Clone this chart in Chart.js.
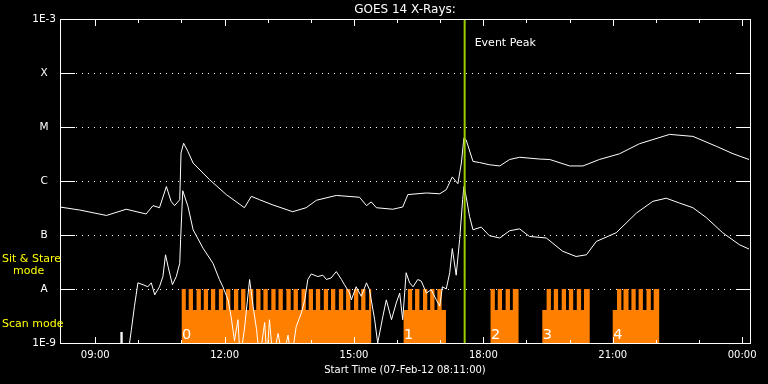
<!DOCTYPE html>
<html>
<head>
<meta charset="utf-8">
<title>GOES 14 X-Rays</title>
<script src="https://cdn.jsdelivr.net/npm/chart.js@4.4.1/dist/chart.umd.min.js"></script>
<style>
  html, body { margin: 0; padding: 0; background: #000; }
  #chart { display: block; }
</style>
</head>
<body>
<canvas id="chart" width="768" height="384"></canvas>
<script>
// GOES 14 X-ray flux (W/m^2), 07-Feb-12, times in decimal hours UT
const longTimes = [8.18, 8.64, 9.26, 9.72, 10.18, 10.34, 10.49, 10.65, 10.76, 10.84, 10.96, 10.99, 11.05, 11.15, 11.27, 11.65,
  12.04, 12.46, 12.62, 12.81, 13.12, 13.58, 13.89, 14.13, 14.59, 15.13, 15.29, 15.40, 15.52, 15.90, 16.13, 16.25, 16.68,
  16.99, 17.14, 17.28, 17.41, 17.49, 17.55, 17.60, 17.76, 17.91, 18.14, 18.38, 18.61, 18.84, 19.30, 19.54, 20.00, 20.31,
  20.69, 21.16, 21.62, 22.32, 22.86, 23.40, 23.79, 24.16];
const longFlux = [3.3e-7, 2.9e-7, 2.3e-7, 3.0e-7, 2.45e-7, 3.5e-7, 3.2e-7, 7.9e-7, 4.2e-7, 3.5e-7, 4.5e-7, 3.3e-6, 5.0e-6, 3.5e-6, 2.15e-6, 1.06e-6,
  5.6e-7, 3.2e-7, 5.2e-7, 4.5e-7, 3.6e-7, 2.7e-7, 3.2e-7, 4.4e-7, 5.4e-7, 5.0e-7, 3.5e-7, 4.1e-7, 3.2e-7, 3.0e-7, 3.3e-7, 5.6e-7, 6.0e-7,
  5.8e-7, 6.9e-7, 1.19e-6, 8.9e-7, 2.15e-6, 6.3e-6, 5.8e-6, 2.3e-6, 2.2e-6, 2.0e-6, 1.9e-6, 2.5e-6, 2.75e-6, 2.55e-6, 2.5e-6, 1.9e-6, 1.9e-6,
  2.5e-6, 3.2e-6, 4.9e-6, 7.3e-6, 6.7e-6, 4.4e-6, 3.2e-6, 2.5e-6];

const shortTimes = [8.18, 9.59, 9.60, 9.62, 9.78, 9.84, 9.91, 9.99, 10.11, 10.22, 10.30, 10.38, 10.49, 10.57, 10.63, 10.69,
  10.79, 10.88, 10.96, 10.98, 11.03, 11.15, 11.27, 11.50, 11.73, 11.88, 11.96, 12.08, 12.15, 12.23, 12.31, 12.36,
  12.46, 12.58, 12.66, 12.74, 12.81, 12.93, 12.98, 13.04, 13.12, 13.24, 13.35, 13.47, 13.55, 13.66, 13.78, 13.86,
  13.93, 14.01, 14.16, 14.28, 14.36, 14.47, 14.59, 14.71, 14.78, 14.90, 14.94, 15.05, 15.17, 15.29, 15.36, 15.48,
  15.55, 15.67, 15.75, 15.87, 15.98, 16.06, 16.13, 16.21, 16.29, 16.37, 16.48, 16.56, 16.68, 16.79, 16.91, 16.99,
  17.05, 17.14, 17.22, 17.28, 17.37, 17.45, 17.52, 17.55, 17.60, 17.68, 17.76, 17.95, 18.14, 18.38, 18.61, 18.84,
  19.07, 19.46, 19.84, 20.15, 20.39, 20.62, 21.08, 21.55, 21.93, 22.24, 22.55, 22.86, 23.17, 23.55, 23.94, 24.16];
const shortFlux = [5e-10, 5e-10, 1.6e-9, 5e-10, 8e-10, 1.8e-9, 4.8e-9, 1.3e-8, 1.2e-8, 1.1e-8, 1.3e-8, 7.8e-9, 1.1e-8, 1.7e-8, 4.3e-8, 2.6e-8,
  1.2e-8, 1.7e-8, 3.0e-8, 8.2e-8, 6.6e-7, 3.4e-7, 1.25e-7, 5.7e-8, 3.0e-8, 1.5e-8, 1.1e-8, 6.3e-9, 3.1e-9, 1.1e-9, 2.7e-9, 5e-10,
  1.8e-9, 1.5e-8, 4.8e-9, 1.8e-9, 5e-10, 2.4e-9, 5e-10, 2.7e-9, 5e-10, 1.5e-9, 5e-10, 1.4e-9, 5e-10, 2.0e-9, 3.6e-9, 6.3e-9,
  1.5e-8, 1.9e-8, 1.7e-8, 1.8e-8, 1.5e-8, 1.6e-8, 2.1e-8, 1.5e-8, 1.2e-8, 8.4e-9, 6.3e-9, 1.1e-8, 7.3e-9, 1.3e-8, 9.7e-9, 2.7e-9,
  1.0e-9, 3.1e-9, 6.3e-9, 2.7e-9, 5.5e-9, 8.4e-9, 2.7e-9, 2.0e-8, 1.3e-8, 1.1e-8, 1.5e-8, 1.4e-8, 8.4e-9, 9.7e-9, 6.3e-9, 4.8e-9,
  1.1e-8, 1.0e-8, 2.0e-8, 5.6e-8, 1.8e-8, 8.2e-8, 4.5e-7, 7.9e-7, 5.2e-7, 2.2e-7, 1.25e-7, 1.4e-7, 9.7e-8, 8.8e-8, 1.2e-7, 1.3e-7,
  9.4e-8, 8.8e-8, 5.0e-8, 4.0e-8, 4.3e-8, 7.6e-8, 1.1e-7, 2.55e-7, 4.2e-7, 4.8e-7, 3.9e-7, 3.2e-7, 2.1e-7, 1.1e-7, 6.6e-8, 5.5e-8];

// observing mode: scan blocks and the sit & stare windows inside them
const scanBlocks = [['11:00', '15:24'], ['16:09', '17:08'], ['18:10', '18:49'], ['19:22', '20:28'], ['21:00', '22:05']];
const blockLabels = ['0', '1', '2', '3', '4'];
const stareTeeth = [
  [['11:00', '11:06'], ['11:10', '11:16'], ['11:21', '11:27'], ['11:31', '11:37'], ['11:41', '11:47'], ['11:52', '11:58'],
   ['12:02', '12:08'], ['12:13', '12:19'], ['12:23', '12:29'], ['12:34', '12:40'], ['12:44', '12:50'], ['12:54', '13:00'],
   ['13:05', '13:11'], ['13:15', '13:21'], ['13:26', '13:32'], ['13:36', '13:42'], ['13:47', '13:53'], ['13:57', '14:03'],
   ['14:07', '14:13'], ['14:18', '14:24'], ['14:28', '14:34'], ['14:39', '14:45'], ['14:49', '14:55'], ['15:00', '15:06'],
   ['15:10', '15:16'], ['15:21', '15:24']],
  [['16:15', '16:21'], ['16:25', '16:31'], ['16:36', '16:42'], ['16:46', '16:52'], ['16:56', '17:02']],
  [['18:10', '18:16'], ['18:20', '18:26'], ['18:31', '18:37'], ['18:41', '18:49']],
  [['19:28', '19:34'], ['19:38', '19:44'], ['19:49', '19:55'], ['19:59', '20:05'], ['20:10', '20:16'], ['20:20', '20:28']],
  [['21:06', '21:12'], ['21:15', '21:22'], ['21:26', '21:32'], ['21:36', '21:42'], ['21:47', '21:53'], ['21:57', '22:05']]
];
const eventPeak = '17:34';

const yTickValues = [1e-9, 1e-8, 1e-7, 1e-6, 1e-5, 1e-4, 1e-3];
const yTickLabels = ['1E-9', 'A', 'B', 'C', 'M', 'X', '1E-3'];
const xTickHours = [9, 12, 15, 18, 21, 24];
const startHour = 8 + 11 / 60;
const endHour = startHour + 16;

const MODE_OFF = 1e-9, MODE_SCAN = 4.1e-9, MODE_STARE = 1e-8;

function toHours(s) {
  const [h, m] = s.split(':').map(Number);
  return h + m / 60;
}

// step outline of the mode band
const modePoints = [];
scanBlocks.forEach(([s, e], i) => {
  const s0 = toHours(s), e0 = toHours(e);
  modePoints.push({x: s0, y: MODE_OFF}, {x: s0, y: MODE_SCAN});
  stareTeeth[i].forEach(([a, b]) => {
    const a0 = toHours(a), b0 = toHours(b);
    modePoints.push({x: a0, y: MODE_SCAN}, {x: a0, y: MODE_STARE}, {x: b0, y: MODE_STARE}, {x: b0, y: MODE_SCAN});
  });
  modePoints.push({x: e0, y: MODE_SCAN}, {x: e0, y: MODE_OFF});
});

const peakHour = toHours(eventPeak);

// frame, inward ticks, dotted levels and annotations
const framePlugin = {
  id: 'frame',
  beforeDatasetsDraw(chart) {
    const {ctx, chartArea: {left, right}, scales: {y}} = chart;
    ctx.save();
    ctx.strokeStyle = '#fff';
    ctx.lineWidth = 1;
    ctx.setLineDash([1, 5]);
    yTickValues.slice(1, -1).forEach(v => {
      const py = Math.round(y.getPixelForValue(v)) + 0.5;
      ctx.beginPath();
      ctx.moveTo(left + 16, py);
      ctx.lineTo(right - 15, py);
      ctx.stroke();
    });
    ctx.restore();
  },
  afterDatasetsDraw(chart) {
    const {ctx, chartArea: {left, right, top, bottom}, scales: {x, y}} = chart;
    ctx.save();
    ctx.strokeStyle = '#fff';
    ctx.lineWidth = 1;
    ctx.strokeRect(left + 0.5, top + 0.5, right - left, bottom - top);

    ctx.beginPath();
    yTickValues.slice(1, -1).forEach(v => {
      const py = Math.round(y.getPixelForValue(v)) + 0.5;
      ctx.moveTo(left, py); ctx.lineTo(left + 15, py);
      ctx.moveTo(right - 14, py); ctx.lineTo(right + 1, py);
    });
    for (let h = 9; h <= 24; h++) {
      const px = Math.round(x.getPixelForValue(h)) + 0.5;
      const len = h % 3 === 0 ? 7 : 4;
      ctx.moveTo(px, top); ctx.lineTo(px, top + len);
      ctx.moveTo(px, bottom + 1); ctx.lineTo(px, bottom + 1 - len);
    }
    ctx.stroke();

    // block numbers
    ctx.fillStyle = '#fff';
    ctx.font = '14.5px "DejaVu Sans"';
    ctx.textAlign = 'left';
    ctx.textBaseline = 'alphabetic';
    scanBlocks.forEach(([s], i) => {
      ctx.fillText(blockLabels[i], x.getPixelForValue(toHours(s)) + 0.5, bottom - 4.5);
    });

    // event marker text
    ctx.font = '11px "DejaVu Sans"';
    ctx.textBaseline = 'middle';
    ctx.fillText('Event Peak', x.getPixelForValue(peakHour) + 10, top + 24);

    // mode labels
    ctx.fillStyle = '#ffff00';
    ctx.fillText('Sit & Stare', 2, 259);
    ctx.fillText('mode', 13, 271);
    ctx.fillText('Scan mode', 2, 324);
    ctx.restore();
  }
};

Chart.defaults.font.family = '"DejaVu Sans"';
Chart.defaults.color = '#fff';

new Chart(document.getElementById('chart'), {
  type: 'line',
  data: {
    datasets: [
      {
        label: 'Event Peak',
        data: [{x: peakHour, y: 1e-9}, {x: peakHour, y: 1e-3}],
        borderColor: '#9acd00',
        borderWidth: 2,
        pointRadius: 0
      },
      {
        label: '1.0-8.0 A',
        data: longTimes.map((t, i) => ({x: t, y: longFlux[i]})),
        borderColor: '#fff',
        borderWidth: 1,
        borderJoinStyle: 'bevel',
        pointRadius: 0
      },
      {
        label: '0.5-4.0 A',
        data: shortTimes.map((t, i) => ({x: t, y: shortFlux[i]})),
        borderColor: '#fff',
        borderWidth: 1,
        borderJoinStyle: 'bevel',
        pointRadius: 0
      },
      {
        label: 'Mode',
        data: modePoints,
        borderWidth: 0,
        borderColor: 'rgba(0,0,0,0)',
        backgroundColor: '#ff8000',
        fill: 'start',
        pointRadius: 0
      }
    ]
  },
  options: {
    responsive: false,
    devicePixelRatio: 1,
    animation: false,
    events: [],
    layout: {padding: {top: 0, right: 18, bottom: 0, left: 0}},
    plugins: {
      legend: {display: false},
      tooltip: {enabled: false},
      title: {
        display: true,
        text: 'GOES 14 X-Rays:',
        color: '#fff',
        fullSize: false,
        font: {size: 12, weight: 'normal', lineHeight: 1.25},
        padding: {top: 2.5, bottom: 1.5}
      }
    },
    scales: {
      x: {
        type: 'linear',
        min: startHour,
        max: endHour,
        bounds: 'data',
        afterBuildTicks: s => { s.ticks = xTickHours.map(v => ({value: v})); },
        afterFit: s => { s.height = 41; },
        grid: {display: false, drawTicks: false},
        border: {display: false},
        ticks: {
          color: '#fff',
          font: {size: 10},
          padding: 6,
          maxRotation: 0,
          autoSkip: false,
          callback: v => String(v % 24).padStart(2, '0') + ':00'
        },
        title: {
          display: true,
          text: 'Start Time (07-Feb-12 08:11:00)',
          color: '#fff',
          font: {size: 10},
          padding: {top: 0, bottom: 8}
        }
      },
      y: {
        type: 'logarithmic',
        min: 1e-9,
        max: 1e-3,
        afterBuildTicks: s => { s.ticks = yTickValues.map(v => ({value: v})); },
        afterFit: s => { s.width = 60; },
        grid: {display: false, drawTicks: false},
        border: {display: false},
        ticks: {
          color: '#fff',
          font: {size: 10.5},
          padding: 4,
          crossAlign: 'center',
          autoSkip: false,
          callback: (v, i) => yTickLabels[i]
        }
      }
    }
  },
  plugins: [framePlugin]
});
</script>
</body>
</html>
